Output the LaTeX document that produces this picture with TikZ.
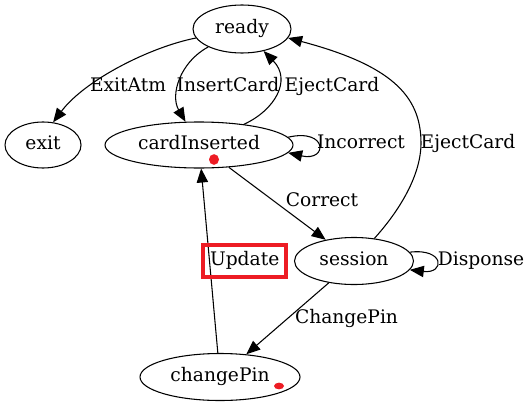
\documentclass[tikz,border=0pt]{standalone}
\usepackage{fontspec}
\setmainfont{DejaVu Serif}
\usetikzlibrary{shapes.geometric,arrows.meta}
\definecolor{mark}{RGB}{237,28,36}
\begin{document}
\begin{tikzpicture}[x=0.75pt,y=-0.75pt,
  every node/.style={font=\fontsize{14}{16}\selectfont, text height=9pt, text depth=2pt, inner sep=0pt},
  state/.style={draw, ellipse, line width=0.8pt},
  lbl/.style={},
  edge/.style={draw, line width=0.8pt, -{Triangle[length=10.5pt,width=8.5pt]}},
  updbox/.style={draw=mark, line width=3pt, minimum width=62.25pt, minimum height=23.8pt},
  dot/.style={fill=mark, draw=none}]
\useasboundingbox (0,0) rectangle (531,407);
% states
\node[state, minimum width=73.5pt, minimum height=36pt] (ready) at (242,29) {ready};
\node[state, minimum width=57pt, minimum height=34.5pt] (exit) at (43,145) {exit};
\node[state, minimum width=141pt, minimum height=34.5pt] (card) at (199,145) {cardInserted};
\node[state, minimum width=89.25pt, minimum height=35.25pt] (session) at (354,261) {session};
\node[state, minimum width=120pt, minimum height=35.25pt] (pin) at (220,377) {changePin};
\coordinate (ejmid) at (421,143);
% red dots
\fill[dot] (214,159.5) ellipse [x radius=3.75pt, y radius=4pt];
\fill[dot] (279,386) ellipse [x radius=3.75pt, y radius=2.5pt];
% edges
\draw[edge] (ready) .. controls (150,47) and (85,80) .. (exit.66);
\draw[edge] (ready) .. controls (180,62) and (170,95) .. (card);
\draw[edge] (card) .. controls (275,110) and (292,80) .. (ready);
\draw[edge] (card.5) .. controls (328,128) and (328,162) .. (card.-5);
\draw[edge] (card) -- (session);
\draw[edge] (session) .. controls (400,210) and (421,175) .. (ejmid)
  .. controls (421,95) and (390,65) .. (ready.-11);
\draw[edge] (session.9) .. controls (445,248) and (445,274) .. (session.-9);
\draw[edge] (session) -- (pin);
\draw[edge] (pin) -- (card);
% labels
\node[lbl] (lexit) at (128,87) {ExitAtm};
\node[lbl] (linsert) at (228,87) {InsertCard};
\node[lbl] (leject1) at (332,87) {EjectCard};
\node[lbl] (lincorrect) at (361,144) {Incorrect};
\node[lbl] (leject2) at (468,144) {EjectCard};
\node[lbl] (lcorrect) at (322,202) {Correct};
\node[lbl] (ldisp) at (481,261) {Disponse};
\node[lbl] (lchange) at (346.5,319) {ChangePin};
\node[lbl, updbox] (lupdate) at (244.7,261.2) {Update};
\end{tikzpicture}
\end{document}
